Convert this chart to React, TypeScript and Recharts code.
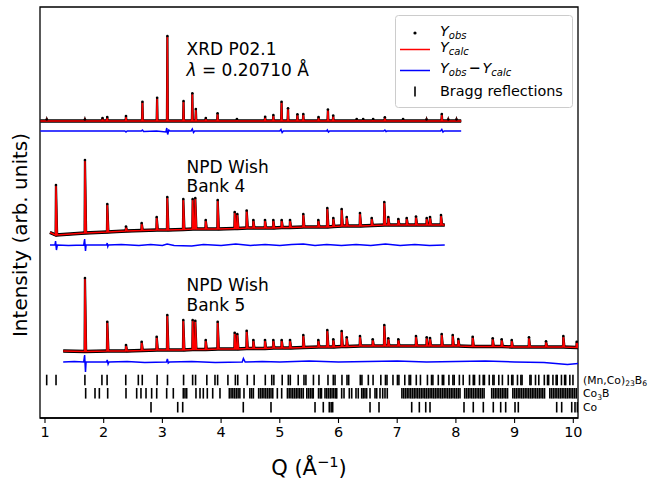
import React from 'react';
import { ComposedChart, Line, Scatter, XAxis, YAxis, ReferenceArea, Customized } from 'recharts';

const FONT = 'DejaVu Sans, sans-serif';

// axis range (Q in 1/Å) and ticks
const qRange = [0.915, 10.08];
const qTicks = [1, 2, 3, 4, 5, 6, 7, 8, 9, 10];

// XRD P02.1 pattern: peaks as [Q, top], flat background, curve end points [Q, I]
const xrdBase = 297;
const xrdEnds = [[0.92, 297], [8.09, 297]];
const xrdPeaks = [
  [1.03, 298.5], [1.68, 298.5], [1.98, 300], [2.06, 301], [2.38, 302], [2.66, 316.3],
  [2.91, 320.3], [3.085, 382], [3.36, 317], [3.51, 324.7], [3.57, 309], [3.74, 300],
  [3.94, 304.7], [4.27, 299], [4.75, 301.3], [4.89, 303], [5.03, 316.3], [5.14, 309.7],
  [5.3, 303.7], [5.4, 304], [5.66, 301], [5.82, 308.5], [5.91, 302.5], [6.31, 299],
  [6.42, 299], [6.59, 299], [6.79, 300.7], [7.1, 299], [7.5, 298.5], [7.76, 304],
  [7.87, 298.5], [8.01, 298.5],
];
const xrdDiff = [
  [0.92, 287], [2.36, 287], [2.38, 286], [2.4, 287], [2.64, 287], [2.66, 288], [2.68, 286.5],
  [2.9, 287], [3.06, 286], [3.075, 290], [3.09, 283.5], [3.11, 288], [3.13, 287], [3.49, 287],
  [3.51, 289], [3.53, 285.5], [3.55, 287], [5.0, 287], [5.02, 288.5], [5.04, 285.5],
  [5.06, 287], [5.8, 287], [5.81, 288], [5.83, 286], [5.85, 287], [6.77, 287], [6.79, 288],
  [6.81, 286.5], [6.83, 287], [7.74, 287], [7.76, 288.5], [7.78, 286], [7.8, 287], [8.09, 287],
];

// NPD WISH bank 4: peaks as [Q, top, background]
const bank4Ends = [[1.085, 185.5], [7.81, 193]];
const bank4Peaks = [
  [1.187, 233, 183], [1.681, 258, 185], [2.061, 214, 186], [2.38, 191.5, 187],
  [2.647, 195, 187.5], [2.903, 201, 188], [3.083, 221, 188], [3.356, 219, 188.5],
  [3.516, 219, 189], [3.56, 220, 189], [3.738, 198, 189], [3.942, 218, 189],
  [4.232, 206, 189.5], [4.276, 204, 189.5], [4.436, 207.5, 190], [4.549, 198, 190],
  [4.748, 198, 190], [4.889, 198, 190], [5.032, 198, 190.5], [5.174, 198, 190.5],
  [5.4, 204, 191], [5.656, 198, 191], [5.809, 210, 191], [5.911, 200, 191.5],
  [6.054, 209, 192], [6.14, 201, 192], [6.366, 205, 192], [6.566, 200, 192.5],
  [6.78, 216, 193], [6.848, 201, 193], [7.019, 199, 193], [7.162, 200, 193],
  [7.32, 201.5, 193], [7.503, 200, 193], [7.559, 201, 193], [7.746, 203, 193],
];
const bank4Diff = [
  [1.085, 173], [1.17, 173], [1.18, 177], [1.195, 168], [1.21, 173], [1.4, 172.5],
  [1.66, 173], [1.675, 179], [1.69, 167], [1.7, 173], [2.05, 173], [2.06, 175],
  [2.07, 171.5], [2.08, 173], [2.3, 173.5], [2.6, 172.5], [2.8, 173.5], [3.0, 172.5],
  [3.08, 174], [3.2, 172.5], [3.5, 172], [3.7, 173.5], [4.0, 172.5], [4.25, 174],
  [4.5, 172.5], [4.75, 173.5], [5.0, 172.5], [5.2, 173.5], [5.4, 174], [5.6, 172.5],
  [5.8, 173.5], [6.05, 172.5], [6.3, 173.5], [6.55, 172.5], [6.8, 174], [7.05, 172.5],
  [7.3, 173.5], [7.55, 172.5], [7.81, 173],
];

// NPD WISH bank 5: peaks as [Q, top, background]
const bank5Ends = [[1.31, 67], [10.1, 70.5]];
const bank5Peaks = [
  [1.681, 140, 66.5], [2.061, 96.3, 67], [2.38, 73, 67], [2.647, 76.3, 67.5],
  [2.903, 81.3, 68], [3.083, 103, 68], [3.356, 98, 68], [3.516, 98, 68.5],
  [3.56, 97.3, 68.5], [3.738, 78, 68.5], [3.942, 96.3, 69], [4.232, 85.3, 69],
  [4.276, 84, 69], [4.436, 87.3, 69.5], [4.549, 78, 69.5], [4.748, 78, 69.5],
  [4.889, 78, 70], [5.032, 78, 70], [5.174, 78, 70], [5.4, 83, 70.5], [5.656, 78, 71],
  [5.809, 88, 71], [5.911, 78.7, 71], [6.054, 87, 71.5], [6.14, 80.7, 71.5],
  [6.366, 82, 72], [6.583, 78.7, 72], [6.78, 93, 72], [6.848, 79.7, 72], [7.019, 78.7, 72],
  [7.32, 82, 72], [7.503, 80.7, 72], [7.559, 80, 72], [7.758, 84, 72], [7.946, 83, 72],
  [8.041, 79, 72], [8.286, 81.3, 71.5], [8.627, 79.7, 71.5], [8.78, 78.7, 71.5],
  [8.951, 78, 71], [9.245, 80.7, 71], [9.535, 76.7, 71], [9.83, 82, 71], [10.058, 76.3, 70.5],
];
const bank5Diff = [
  [1.31, 56], [1.5, 56.5], [1.66, 56], [1.675, 63], [1.69, 46], [1.7, 56], [2.05, 56],
  [2.06, 58], [2.075, 54], [2.09, 56], [2.4, 56.5], [2.7, 55.5], [3.07, 56], [3.085, 59],
  [3.1, 55], [3.12, 56], [3.5, 56.5], [3.9, 55.5], [4.36, 56], [4.38, 59.5], [4.41, 56],
  [4.7, 56.5], [5.0, 56], [5.5, 57], [6.0, 56], [6.5, 56.5], [7.0, 57], [7.5, 56],
  [8.0, 56.5], [8.5, 57], [9.0, 56], [9.5, 55.5], [9.8, 54], [9.9, 53.5], [10.08, 54.5],
];

// Bragg reflection positions (Q) for the three phases
const mnCoB = [
  1.029, 1.188, 1.68, 1.97, 2.058, 2.376, 2.59, 2.657, 2.91, 3.087, 3.361, 3.515, 3.565,
  3.757, 3.896, 3.941, 4.116, 4.243, 4.284, 4.446, 4.563, 4.753, 4.863, 4.899, 5.041,
  5.145, 5.179, 5.314, 5.412, 5.445, 5.573, 5.667, 5.821, 5.911, 5.941, 6.059, 6.145,
  6.174, 6.371, 6.399, 6.508, 6.589, 6.721, 6.8, 6.826, 6.928, 7.004, 7.029, 7.129,
  7.203, 7.228, 7.325, 7.396, 7.515, 7.585, 7.608, 7.7, 7.769, 7.792, 7.881, 7.949,
  7.971, 8.059, 8.124, 8.232, 8.296, 8.317, 8.402, 8.465, 8.486, 8.568, 8.63, 8.65,
  8.731, 8.792, 8.892, 8.951, 8.971, 9.049, 9.107, 9.127, 9.261, 9.28, 9.356, 9.412,
  9.506, 9.561, 9.58, 9.653, 9.708, 9.726, 9.798, 9.852, 9.87, 9.941, 9.994,
];
const co3B = [
  1.693, 1.852, 1.926, 2.068, 2.38, 2.562, 2.635, 2.721, 2.817, 2.903, 3.073, 3.186,
  3.356, 3.385, 3.414, 3.572, 3.641, 3.697, 3.765, 3.857, 3.981, 4.14, 4.17, 4.2, 4.23,
  4.26, 4.29, 4.32, 4.39, 4.49, 4.52, 4.55, 4.64, 4.67, 4.7, 4.73, 4.76, 4.79, 4.82,
  4.85, 4.88, 4.958, 5.032, 5.13, 5.16, 5.19, 5.22, 5.25, 5.28, 5.31, 5.34, 5.37, 5.4,
  5.46, 5.49, 5.52, 5.55, 5.57, 5.66, 5.69, 5.71, 5.77, 5.8, 5.83, 5.86, 5.89, 5.92,
  5.95, 5.97, 6.054, 6.094, 6.184, 6.225, 6.298, 6.337, 6.395, 6.422, 6.451, 6.48,
  6.537, 6.622, 6.651, 6.707, 6.753, 6.792, 6.831, 7.08, 7.11, 7.14, 7.17, 7.2, 7.23,
  7.26, 7.29, 7.32, 7.35, 7.38, 7.41, 7.44, 7.47, 7.5, 7.53, 7.56, 7.59, 7.62, 7.65,
  7.68, 7.71, 7.74, 7.77, 7.8, 7.83, 7.86, 7.89, 7.92, 7.95, 7.98, 8.01, 8.04, 8.07,
  8.15, 8.18, 8.21, 8.24, 8.27, 8.3, 8.33, 8.36, 8.39, 8.42, 8.45, 8.48, 8.61, 8.64,
  8.67, 8.7, 8.73, 8.76, 8.79, 8.82, 8.85, 8.88, 8.97, 9.0, 9.03, 9.06, 9.09, 9.12,
  9.15, 9.18, 9.21, 9.24, 9.27, 9.3, 9.33, 9.36, 9.39, 9.42, 9.45, 9.48, 9.51, 9.6,
  9.63, 9.66, 9.69, 9.72, 9.75, 9.78, 9.81, 9.84, 9.87, 9.9, 9.93, 9.96, 9.99, 10.02, 10.05,
];
const coQ = [
  2.806, 3.261, 3.346, 4.378, 4.85, 5.6, 5.741, 5.843, 5.875, 5.901, 6.537, 6.69, 7.247,
  7.377, 7.486, 7.559, 8.138, 8.296, 8.467, 8.637, 8.763, 8.848, 9.007, 9.063, 9.717,
  9.802, 9.973, 10.029, 10.07,
];
// vertical level of each tick row
const braggRows = [38, 24.7, 10.8];

type Pt = { q: number; v: number };

// calculated profile: background plus a narrow spike at every peak
const profile = (ends: number[][], peaks: number[][], base: number, wl: number, wr: number): Pt[] => {
  const rows: Pt[] = [{ q: ends[0][0], v: ends[0][1] }];
  peaks.forEach((p) => {
    const b = p.length > 2 ? p[2] : base;
    rows.push({ q: p[0] - wl, v: b }, { q: p[0], v: p[1] }, { q: p[0] + wr, v: b });
  });
  rows.push({ q: ends[1][0], v: ends[1][1] });
  return rows;
};
// observed points: dense along the background, sparse on the peaks
const background = (ends: number[][], peaks: number[][], base: number): Pt[] => [
  { q: ends[0][0], v: ends[0][1] },
  ...peaks.map((p) => ({ q: p[0], v: p.length > 2 ? p[2] : base })),
  { q: ends[1][0], v: ends[1][1] },
];
const tops = (peaks: number[][]): Pt[] => peaks.map((p) => ({ q: p[0], v: p[1] }));
const toPts = (arr: number[][]): Pt[] => arr.map(([q, v]) => ({ q, v }));

const patterns = [
  { key: 'xrd', calc: profile(xrdEnds, xrdPeaks, xrdBase, 0.008, 0.008), bg: background(xrdEnds, xrdPeaks, xrdBase), tops: tops(xrdPeaks), diff: toPts(xrdDiff) },
  { key: 'b4', calc: profile(bank4Ends, bank4Peaks, 0, 0.006, 0.02), bg: background(bank4Ends, bank4Peaks, 0), tops: tops(bank4Peaks), diff: toPts(bank4Diff) },
  { key: 'b5', calc: profile(bank5Ends, bank5Peaks, 0, 0.006, 0.02), bg: background(bank5Ends, bank5Peaks, 0), tops: tops(bank5Peaks), diff: toPts(bank5Diff) },
];

const BraggTick = (props: any) => {
  const { cx, cy } = props;
  if (cx == null || cy == null) return null;
  return <line x1={cx} x2={cx} y1={cy - 5.3} y2={cy + 5.3} stroke="#000" strokeWidth={1.6} />;
};
const ObsDot = (props: any) => {
  const { cx, cy } = props;
  if (cx == null || cy == null) return null;
  return <circle cx={cx} cy={cy} r={1.3} fill="#000" />;
};

const Annotations = () => (
  <g fontFamily={FONT} fill="#000">
    <text x={186.5} y={55} fontSize={17}>XRD P02.1</text>
    <text x={186.5} y={76} fontSize={17}>
      <tspan fontStyle="italic">λ</tspan> = 0.20710 Å
    </text>
    <text x={186.5} y={172.5} fontSize={17}>NPD Wish</text>
    <text x={186.5} y={191.7} fontSize={17}>Bank 4</text>
    <text x={186.5} y={291} fontSize={17}>NPD Wish</text>
    <text x={186.5} y={310.5} fontSize={17}>Bank 5</text>

    <text x={583} y={383.5} fontSize={10.8}>
      (Mn,Co)<tspan fontSize={7.6} dy={2.5}>23</tspan><tspan dy={-2.5}>B</tspan>
      <tspan fontSize={7.6} dy={2.5}>6</tspan>
    </text>
    <text x={583} y={397} fontSize={10.8}>
      Co<tspan fontSize={7.6} dy={2.5}>3</tspan><tspan dy={-2.5}>B</tspan>
    </text>
    <text x={583} y={411} fontSize={10.8}>Co</text>

    <text x={26.5} y={235} fontSize={20} textAnchor="middle" transform="rotate(-90, 26.5, 235)">
      Intensity (arb. units)
    </text>
    <text x={309} y={475} fontSize={21} textAnchor="middle">
      Q (Å<tspan fontSize={14.7} dy={-8}>−1</tspan><tspan dy={8}>)</tspan>
    </text>

    <rect x={395.5} y={15.5} width={177} height={92} rx={3} fill="#fff" fillOpacity={0.8} stroke="#cccccc" />
    <circle cx={415} cy={33} r={1.6} fill="#000" />
    <text x={440} y={35.5} fontSize={14.4}>
      <tspan fontStyle="italic">Y</tspan><tspan fontSize={10} fontStyle="italic" dy={3}>obs</tspan>
    </text>
    <line x1={400} x2={430} y1={49.5} y2={49.5} stroke="#ff0000" strokeWidth={1.5} />
    <text x={440} y={51.5} fontSize={14.4}>
      <tspan fontStyle="italic">Y</tspan><tspan fontSize={10} fontStyle="italic" dy={3}>calc</tspan>
    </text>
    <line x1={400} x2={430} y1={70.5} y2={70.5} stroke="#0000ff" strokeWidth={1.5} />
    <text x={440} y={73} fontSize={14.4}>
      <tspan fontStyle="italic">Y</tspan><tspan fontSize={10} fontStyle="italic" dy={3}>obs</tspan>
      <tspan dy={-3} dx={2} fontWeight="bold">−</tspan>
      <tspan dx={2} fontStyle="italic">Y</tspan><tspan fontSize={10} fontStyle="italic" dy={3}>calc</tspan>
    </text>
    <line x1={415} x2={415} y1={86.5} y2={96.5} stroke="#000" strokeWidth={1.6} />
    <text x={440} y={95.5} fontSize={14.4}>Bragg reflections</text>
  </g>
);

export default function App() {
  return (
    <div style={{ position: 'absolute', left: 0, top: 0 }}>
      <ComposedChart width={652} height={483} margin={{ top: 7, right: 74, bottom: 35, left: 40 }}>
        <XAxis
          type="number"
          dataKey="q"
          domain={qRange}
          ticks={qTicks}
          interval={0}
          allowDataOverflow
          height={30}
          tickSize={5}
          tickMargin={3.5}
          axisLine={{ stroke: '#000', strokeWidth: 1.3 }}
          tickLine={{ stroke: '#000', strokeWidth: 1.1 }}
          tick={{ fill: '#000', fontSize: 14.4, fontFamily: FONT }}
        />
        <YAxis type="number" domain={[0, 411]} hide allowDataOverflow />
        {patterns.map((p) => [
          <Line key={p.key + 'o'} data={p.bg} dataKey="v" type="linear" stroke="#000" strokeWidth={3.4}
            dot={false} activeDot={false} isAnimationActive={false} />,
          <Line key={p.key + 'e'} data={p.calc} dataKey="v" type="linear" stroke="#000" strokeWidth={2.2}
            dot={false} activeDot={false} isAnimationActive={false} />,
          <Scatter key={p.key + 't'} data={p.tops} dataKey="v" shape={ObsDot} isAnimationActive={false} />,
          <Line key={p.key + 'c'} data={p.calc} dataKey="v" type="linear" stroke="#ff0000" strokeWidth={1.5}
            dot={false} activeDot={false} isAnimationActive={false} />,
          <Line key={p.key + 'd'} data={p.diff} dataKey="v" type="linear" stroke="#0000ff" strokeWidth={1.5}
            dot={false} activeDot={false} isAnimationActive={false} />,
        ])}
        <Scatter data={mnCoB.map((q) => ({ q, v: braggRows[0] }))} dataKey="v" shape={BraggTick} isAnimationActive={false} />
        <Scatter data={co3B.map((q) => ({ q, v: braggRows[1] }))} dataKey="v" shape={BraggTick} isAnimationActive={false} />
        <Scatter data={coQ.map((q) => ({ q, v: braggRows[2] }))} dataKey="v" shape={BraggTick} isAnimationActive={false} />
        <ReferenceArea x1={qRange[0]} x2={qRange[1]} y1={0} y2={411} fill="none" stroke="#000" strokeWidth={1.3} ifOverflow="visible" />
        <Customized component={Annotations} />
      </ComposedChart>
    </div>
  );
}
